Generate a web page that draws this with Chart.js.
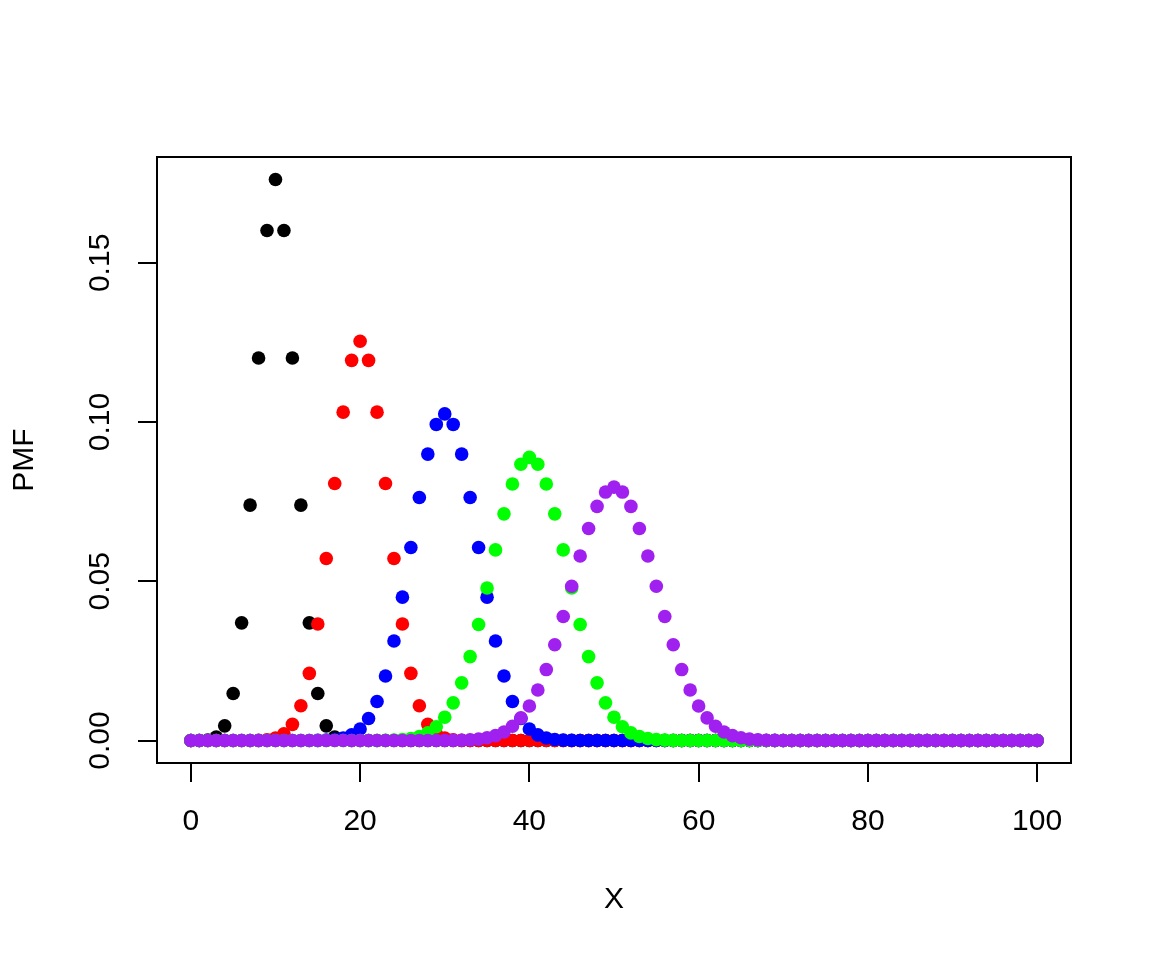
<!DOCTYPE html>
<html>
<head>
<meta charset="utf-8">
<script src="https://cdn.jsdelivr.net/npm/chart.js@4.4.1/dist/chart.umd.min.js"></script>
<style>
  html, body { margin: 0; padding: 0; background: #fff; }
  #wrap { width: 1152px; height: 960px; }
</style>
</head>
<body>
<div id="wrap"><canvas id="chart" width="1152" height="960"></canvas></div>
<script>
// x values 0..100
const xs = [
  0, 1, 2, 3, 4, 5, 6, 7, 8, 9,
  10, 11, 12, 13, 14, 15, 16, 17, 18, 19,
  20, 21, 22, 23, 24, 25, 26, 27, 28, 29,
  30, 31, 32, 33, 34, 35, 36, 37, 38, 39,
  40, 41, 42, 43, 44, 45, 46, 47, 48, 49,
  50, 51, 52, 53, 54, 55, 56, 57, 58, 59,
  60, 61, 62, 63, 64, 65, 66, 67, 68, 69,
  70, 71, 72, 73, 74, 75, 76, 77, 78, 79,
  80, 81, 82, 83, 84, 85, 86, 87, 88, 89,
  90, 91, 92, 93, 94, 95, 96, 97, 98, 99,
  100
];

// PMF values per series
const black = [
  0.000001, 0.00002, 0.00018, 0.00109, 0.00462, 0.01479, 0.03696, 0.07393, 0.12013, 0.16018,
  0.17620, 0.16018, 0.12013, 0.07393, 0.03696, 0.01479, 0.00462, 0.00109, 0.00018, 0.00002,
  0.000001, 0, 0, 0, 0, 0, 0, 0, 0, 0,
  0, 0, 0, 0, 0, 0, 0, 0, 0, 0,
  0, 0, 0, 0, 0, 0, 0, 0, 0, 0,
  0, 0, 0, 0, 0, 0, 0, 0, 0, 0,
  0, 0, 0, 0, 0, 0, 0, 0, 0, 0,
  0, 0, 0, 0, 0, 0, 0, 0, 0, 0,
  0, 0, 0, 0, 0, 0, 0, 0, 0, 0,
  0, 0, 0, 0, 0, 0, 0, 0, 0, 0,
  0
];
const red = [
  0, 0, 0, 0, 0, 0, 0.000004, 0.00002, 0.00007, 0.00025,
  0.00077, 0.00210, 0.00508, 0.01094, 0.02111, 0.03658, 0.05716, 0.08070, 0.10312, 0.11940,
  0.12537, 0.11940, 0.10312, 0.08070, 0.05716, 0.03658, 0.02111, 0.01094, 0.00508, 0.00210,
  0.00077, 0.00025, 0.00007, 0.00002, 0.000004, 0, 0, 0, 0, 0,
  0, 0, 0, 0, 0, 0, 0, 0, 0, 0,
  0, 0, 0, 0, 0, 0, 0, 0, 0, 0,
  0, 0, 0, 0, 0, 0, 0, 0, 0, 0,
  0, 0, 0, 0, 0, 0, 0, 0, 0, 0,
  0, 0, 0, 0, 0, 0, 0, 0, 0, 0,
  0, 0, 0, 0, 0, 0, 0, 0, 0, 0,
  0
];
const blue = [
  0, 0, 0, 0, 0, 0, 0, 0, 0, 0,
  0, 0, 0, 0, 0.00002, 0.00005, 0.00013, 0.00034, 0.00080, 0.00177,
  0.00364, 0.00693, 0.01228, 0.02028, 0.03127, 0.04503, 0.06062, 0.07633, 0.08996, 0.09927,
  0.10258, 0.09927, 0.08996, 0.07633, 0.06062, 0.04503, 0.03127, 0.02028, 0.01228, 0.00693,
  0.00364, 0.00177, 0.00080, 0.00034, 0.00013, 0.00005, 0.00002, 0, 0, 0,
  0, 0, 0, 0, 0, 0, 0, 0, 0, 0,
  0, 0, 0, 0, 0, 0, 0, 0, 0, 0,
  0, 0, 0, 0, 0, 0, 0, 0, 0, 0,
  0, 0, 0, 0, 0, 0, 0, 0, 0, 0,
  0, 0, 0, 0, 0, 0, 0, 0, 0, 0,
  0
];
const green = [
  0, 0, 0, 0, 0, 0, 0, 0, 0, 0,
  0, 0, 0, 0, 0, 0, 0, 0, 0, 0,
  0, 0, 0.00002, 0.00006, 0.00013, 0.00030, 0.00064, 0.00127, 0.00241, 0.00432,
  0.00734, 0.01184, 0.01812, 0.02636, 0.03644, 0.04789, 0.05987, 0.07119, 0.08056, 0.08676,
  0.08893, 0.08676, 0.08056, 0.07119, 0.05987, 0.04789, 0.03644, 0.02636, 0.01812, 0.01184,
  0.00734, 0.00432, 0.00241, 0.00127, 0.00064, 0.00030, 0.00013, 0.00006, 0.00002, 0,
  0, 0, 0, 0, 0, 0, 0, 0, 0, 0,
  0, 0, 0, 0, 0, 0, 0, 0, 0, 0,
  0, 0, 0, 0, 0, 0, 0, 0, 0, 0,
  0, 0, 0, 0, 0, 0, 0, 0, 0, 0,
  0
];
const purple = [
  0, 0, 0, 0, 0, 0, 0, 0, 0, 0,
  0, 0, 0, 0, 0, 0, 0, 0, 0, 0,
  0, 0, 0, 0, 0, 0, 0, 0, 0, 0,
  0, 0.00005, 0.00011, 0.00023, 0.00046, 0.00086, 0.00156, 0.00270, 0.00447, 0.00711,
  0.01084, 0.01587, 0.02229, 0.03007, 0.03895, 0.04847, 0.05796, 0.06659, 0.07353, 0.07803,
  0.07959, 0.07803, 0.07353, 0.06659, 0.05796, 0.04847, 0.03895, 0.03007, 0.02229, 0.01587,
  0.01084, 0.00711, 0.00447, 0.00270, 0.00156, 0.00086, 0.00046, 0.00023, 0.00011, 0.00005,
  0, 0, 0, 0, 0, 0, 0, 0, 0, 0,
  0, 0, 0, 0, 0, 0, 0, 0, 0, 0,
  0, 0, 0, 0, 0, 0, 0, 0, 0, 0,
  0
];

const xTicks = [0, 20, 40, 60, 80, 100];
const yTicks = [0, 0.05, 0.10, 0.15];
const yTickLabels = ["0.00", "0.05", "0.10", "0.15"];

const FONT = "'Liberation Sans', Arial, sans-serif";
const FS = 30;

function pts(ys) {
  return xs.map((x, i) => ({ x: x, y: ys[i] }));
}

function ds(ys, col, ord) {
  return {
    data: pts(ys),
    backgroundColor: col,
    borderWidth: 0,
    pointRadius: 6.8,
    pointHoverRadius: 6.8,
    order: ord
  };
}

// box round the plot + rotated y labels, R style
const rStyle = {
  id: "rStyle",
  afterDraw(chart) {
    const c = chart.ctx;
    const a = chart.chartArea;
    const ys = chart.scales.y;
    c.save();
    c.strokeStyle = "#000";
    c.lineWidth = 2;
    c.strokeRect(a.left, a.top, a.right - a.left, a.bottom - a.top);
    c.fillStyle = "#000";
    c.font = FS + "px " + FONT;
    c.textAlign = "center";
    c.textBaseline = "middle";
    yTicks.forEach((v, i) => {
      c.save();
      c.translate(101, ys.getPixelForValue(v));
      c.rotate(-Math.PI / 2);
      c.fillText(yTickLabels[i], 0, 0);
      c.restore();
    });
    c.restore();
  }
};

new Chart(document.getElementById("chart"), {
  type: "scatter",
  data: {
    datasets: [
      ds(black, "#000000", 5),
      ds(red, "#FF0000", 4),
      ds(blue, "#0000FF", 3),
      ds(green, "#00FF00", 2),
      ds(purple, "#A020F0", 1)
    ]
  },
  options: {
    responsive: false,
    devicePixelRatio: 1,
    animation: false,
    layout: { padding: { left: 0, top: 157, right: 81, bottom: 0 } },
    plugins: {
      legend: { display: false },
      tooltip: { enabled: false }
    },
    scales: {
      x: {
        type: "linear",
        min: -4,
        max: 104,
        afterBuildTicks: s => { s.ticks = xTicks.map(v => ({ value: v })); },
        afterFit: s => { s.height = 197; },
        border: { display: false },
        grid: { drawOnChartArea: false, drawTicks: true, tickLength: 19, color: "#000", lineWidth: 2 },
        ticks: { color: "#000", font: { family: FONT, size: FS }, padding: 22, maxRotation: 0 },
        title: { display: true, text: "X", color: "#000", font: { family: FONT, size: FS }, padding: { top: 0, bottom: 42 } }
      },
      y: {
        type: "linear",
        min: -0.00705,
        max: 0.18325,
        afterBuildTicks: s => { s.ticks = yTicks.map(v => ({ value: v })); },
        afterFit: s => { s.width = 157; },
        border: { display: false },
        grid: { drawOnChartArea: false, drawTicks: true, tickLength: 19, color: "#000", lineWidth: 2 },
        ticks: { display: false },
        title: { display: true, text: "PMF", color: "#000", font: { family: FONT, size: FS }, padding: { top: 7, bottom: 0 } }
      }
    }
  },
  plugins: [rStyle]
});
</script>
</body>
</html>
